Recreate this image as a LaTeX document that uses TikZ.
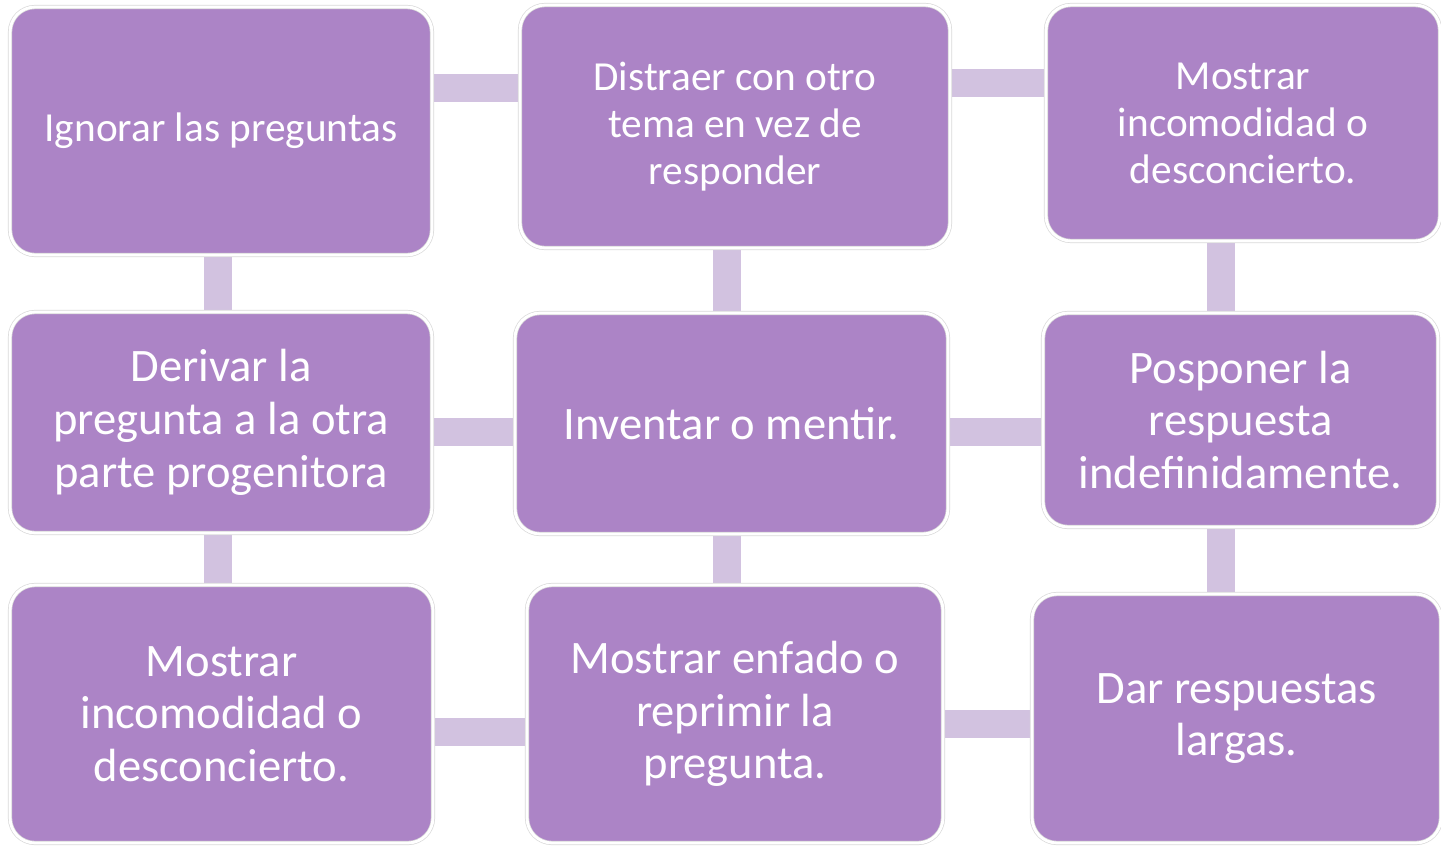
\documentclass[tikz,border=0pt]{standalone}
\usepackage{fontspec}
\setmainfont{Carlito}
\usetikzlibrary{backgrounds}
\definecolor{boxfill}{HTML}{AC84C6}
\definecolor{linkfill}{HTML}{D2C2E0}
\begin{document}
\begin{tikzpicture}[x=0.02cm, y=-0.02cm,
		every node/.style={rounded corners=0.5cm, fill=boxfill, draw=black!15, double=white, double distance=1.6pt, text=white, align=center, inner sep=0pt},
		small/.style={font=\fontsize{23.5}{26.7}\selectfont},
		big/.style={font=\fontsize{26.5}{30}\selectfont},
		link/.style={linkfill, line width=0.56cm}]
			\useasboundingbox (0,0) rectangle (1441,846);

			\node[small, minimum width=8.44cm, minimum height=4.96cm] (ign) at (221,131) {Ignorar las preguntas};
			\node[small, minimum width=8.6cm, minimum height=4.86cm] (dis) at (735,126.5) {Distraer con otro\\tema en vez de\\responder};
			\node[small, minimum width=7.88cm, minimum height=4.72cm] (inc1) at (1243,123) {Mostrar\\incomodidad o\\desconcierto.};
			\node[big, minimum width=8.44cm, minimum height=4.42cm] (der) at (221,422.5) {Derivar la\\pregunta a la otra\\parte progenitora};
			\node[big, minimum width=8.66cm, minimum height=4.42cm] (inv) at (731.5,423.5) {Inventar o mentir.};
			\node[big, minimum width=7.9cm, minimum height=4.28cm] (pos) at (1240.5,420) {Posponer la\\respuesta\\indefinidamente.};
			\node[big, minimum width=8.46cm, minimum height=5.16cm] (inc2) at (221.5,714) {Mostrar\\incomodidad o\\desconcierto.};
			\node[big, minimum width=8.32cm, minimum height=5.16cm] (enf) at (735,714) {Mostrar enfado o\\reprimir la\\pregunta.};
			\node[big, minimum width=8.18cm, minimum height=4.98cm] (lar) at (1236.5,718.5) {Dar respuestas\\largas.};

			\coordinate (r1a) at (476,88);
			\coordinate (r1b) at (998,83);
			\coordinate (r2) at (0,432);
			\coordinate (r3a) at (482,732);
			\coordinate (r3b) at (988,724);
			\coordinate (c1) at (218,0);
			\coordinate (c2) at (727,0);
			\coordinate (c3) at (1221,0);

			\begin{scope}[on background layer]
				\draw[link] (ign.east |- r1a) -- (dis.west |- r1a);
				\draw[link] (dis.east |- r1b) -- (inc1.west |- r1b);
				\draw[link] (der.east |- r2) -- (inv.west |- r2);
				\draw[link] (inv.east |- r2) -- (pos.west |- r2);
				\draw[link] (inc2.east |- r3a) -- (enf.west |- r3a);
				\draw[link] (enf.east |- r3b) -- (lar.west |- r3b);

				\draw[link] (c1 |- ign.south) -- (c1 |- der.north);
				\draw[link] (c2 |- dis.south) -- (c2 |- inv.north);
				\draw[link] (c3 |- inc1.south) -- (c3 |- pos.north);
				\draw[link] (c1 |- der.south) -- (c1 |- inc2.north);
				\draw[link] (c2 |- inv.south) -- (c2 |- enf.north);
				\draw[link] (c3 |- pos.south) -- (c3 |- lar.north);
			\end{scope}
		\end{tikzpicture}
\end{document}
